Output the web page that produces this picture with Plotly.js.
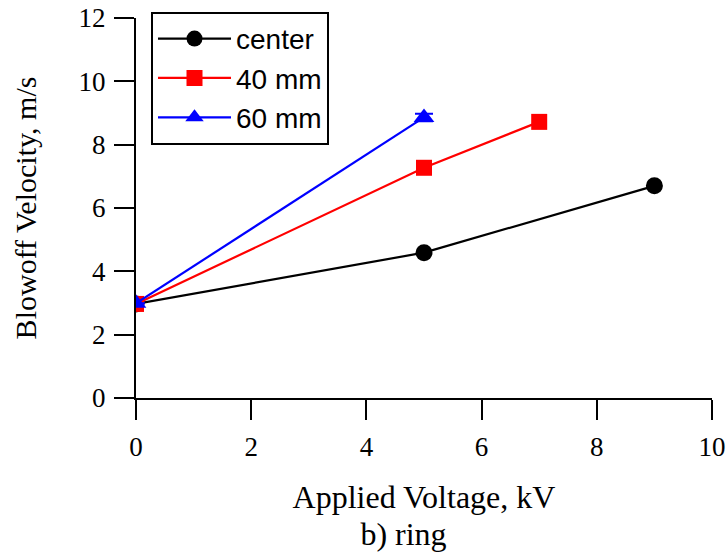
<!DOCTYPE html>
<html>
<head>
<meta charset="utf-8">
<script src="https://cdn.plot.ly/plotly-3.0.1.min.js"></script>
<style>html,body{margin:0;padding:0;background:#fff}#chart{width:727px;height:557px}</style>
</head>
<body>
<div id="chart"></div>
<script>
var seriesNames = ["center", "40 mm", "60 mm"];
var centerX = [0, 5, 9];
var centerY = [2.97, 4.59, 6.70];
var mm40X = [0, 5, 7];
var mm40Y = [2.97, 7.27, 8.72];
var mm60X = [0, 5];
var mm60Y = [2.99, 8.86];
var mm60Err = [0, 0.12];
var xTicks = [0, 2, 4, 6, 8, 10];
var yTicks = [0, 2, 4, 6, 8, 10, 12];

var traces = [
  {x: centerX, y: centerY, name: seriesNames[0], mode: "lines+markers",
   line: {color: "#000000", width: 2.2}, marker: {symbol: "circle", size: 17, color: "#000000"}},
  {x: mm40X, y: mm40Y, name: seriesNames[1], mode: "lines+markers",
   line: {color: "#ff0000", width: 2.2}, marker: {symbol: "square", size: 16, color: "#ff0000"}},
  {x: mm60X, y: mm60Y, name: seriesNames[2], mode: "lines+markers",
   line: {color: "#0000ff", width: 2.2}, marker: {symbol: "triangle-up", size: 18, color: "#0000ff"},
   error_y: {type: "data", array: mm60Err, visible: true, color: "#0000ff", thickness: 2, width: 9}}
];

var layout = {
  width: 727, height: 557,
  margin: {l: 136, r: 15, t: 15.5, b: 159.3},
  paper_bgcolor: "#ffffff", plot_bgcolor: "#ffffff",
  showlegend: true,
  font: {family: "Liberation Serif, Times New Roman, serif", color: "#000000"},
  title: {text: "b) ring", font: {family: "Liberation Serif, serif", size: 32, color: "#000"},
          x: 403.5/727, xanchor: "center", xref: "container", y: 12/557, yref: "container", yanchor: "bottom"},
  xaxis: {
    range: [0, 10], tickvals: xTicks, ticktext: xTicks.map(String),
    showgrid: false, zeroline: false, showline: true, linecolor: "#000", linewidth: 2,
    ticks: "outside", ticklen: 20, tickwidth: 2, tickcolor: "#000", ticklabelstandoff: 4,
    tickfont: {family: "Liberation Serif, serif", size: 27, color: "#000"},
    title: {text: "Applied Voltage, kV", font: {family: "Liberation Serif, serif", size: 32, color: "#000"}, standoff: 24}
  },
  yaxis: {
    range: [0, 12], tickvals: yTicks, ticktext: yTicks.map(String),
    showgrid: false, zeroline: false, showline: true, linecolor: "#000", linewidth: 2,
    ticks: "outside", ticklen: 20, tickwidth: 2, tickcolor: "#000", ticklabelstandoff: 3,
    tickfont: {family: "Liberation Serif, serif", size: 27, color: "#000"},
    title: {text: "Blowoff Velocity, m/s", font: {family: "Liberation Serif, serif", size: 30, color: "#000"}, standoff: 33}
  },
  legend: {
    x: (151-136)/576, xanchor: "left", y: 1 + (15.5-9.3)/382.2, yanchor: "top",
    bordercolor: "#000", borderwidth: 2, bgcolor: "#ffffff",
    font: {family: "Liberation Sans, Arial, sans-serif", size: 28, color: "#000"},
    itemwidth: 73, tracegroupgap: 0
  }
};

Plotly.newPlot("chart", traces, layout, {displayModeBar: false, staticPlot: true});
</script>
</body>
</html>
